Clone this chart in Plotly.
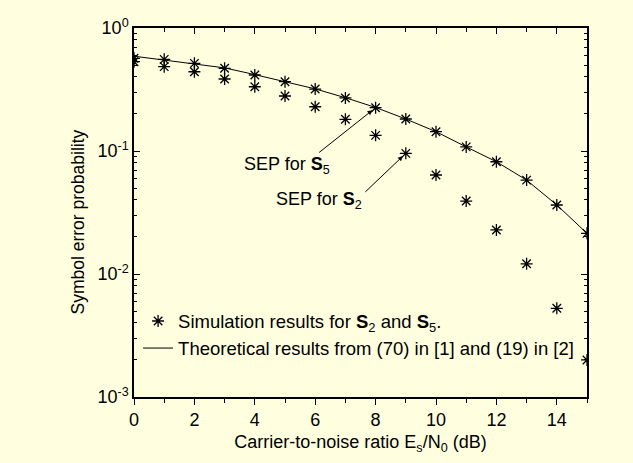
import math
import plotly.graph_objects as go

snr_db = list(range(0, 16))
sep_s5_sim = [0.567, 0.556, 0.516, 0.470, 0.415, 0.366, 0.319, 0.270, 0.225, 0.182,
              0.1436, 0.108, 0.0818, 0.058, 0.0364, 0.0214]
sep_s2_sim = [0.532, 0.485, 0.441, 0.385, 0.333, 0.280, 0.229, 0.181, 0.134, 0.0957,
              0.0638, 0.0392, 0.0228, 0.0121, 0.00526, 0.0020]
sep_theory = [0.590, 0.549, 0.515, 0.474, 0.418, 0.368, 0.320, 0.271, 0.226, 0.182,
              0.1436, 0.108, 0.0818, 0.058, 0.0364, 0.0214]

y_tick_vals = [1e-3, 1e-2, 1e-1, 1]
y_tick_text = ["10<sup>-3</sup>", "10<sup>-2</sup>", "10<sup>-1</sup>", "10<sup>0</sup>"]
x_tick_vals = [0, 2, 4, 6, 8, 10, 12, 14]

BG = "#FFFFE0"
FONT = "Liberation Sans, Arial, sans-serif"
FS = 18

fig = go.Figure()
fig.add_trace(go.Scatter(
    x=snr_db, y=sep_s5_sim, mode="markers",
    name="Simulation results for <b>S</b><sub>2</sub> and <b>S</b><sub>5</sub>.",
    legendgroup="sim",
    marker=dict(symbol="asterisk-open", size=10, color="black",
                line=dict(color="black", width=1.3)),
))
fig.add_trace(go.Scatter(
    x=snr_db, y=sep_s2_sim, mode="markers", showlegend=False, legendgroup="sim",
    marker=dict(symbol="asterisk-open", size=10, color="black",
                line=dict(color="black", width=1.3)),
))
fig.add_trace(go.Scatter(
    x=snr_db, y=sep_theory, mode="lines",
    name="Theoretical results from (70) in [1] and (19) in [2]",
    line=dict(color="black", width=1),
))
# helper trace for the top axis (inside ticks)
fig.add_trace(go.Scatter(x=[], y=[], xaxis="x2", yaxis="y", showlegend=False,
                         hoverinfo="skip"))

minor_y = [m * 10 ** k for k in range(-3, 0) for m in range(2, 10)]

fig.update_layout(
    width=633, height=463,
    paper_bgcolor=BG, plot_bgcolor=BG,
    margin=dict(l=133.5, r=46.3, t=28, b=65.7),
    font=dict(family=FONT, size=FS, color="black"),
    showlegend=True,
    legend=dict(x=0.009, xanchor="left", y=0.08, yanchor="bottom",
                bgcolor="rgba(0,0,0,0)", borderwidth=0,
                font=dict(size=FS + 0.5), itemwidth=30, tracegroupgap=0),
    xaxis=dict(
        range=[0, 15], tickvals=x_tick_vals, ticks="outside", ticklen=6,
        tickwidth=1, tickcolor="black",
        minor=dict(dtick=1, tick0=0, ticks="outside", ticklen=4, tickcolor="black"),
        showline=True, linecolor="black", linewidth=1.5, mirror=True,
        showgrid=False, zeroline=False, tickfont=dict(size=FS),
        title=dict(text="Carrier-to-noise ratio E<sub>s</sub>/N<sub>0</sub> (dB)",
                   standoff=6, font=dict(size=FS)),
    ),
    xaxis2=dict(
        range=[0, 15], overlaying="x", side="top", anchor="y",
        tickvals=x_tick_vals, ticks="inside", ticklen=6, tickcolor="black",
        minor=dict(dtick=1, tick0=0, ticks="inside", ticklen=4, tickcolor="black"),
        showticklabels=False, showline=False, showgrid=False, zeroline=False,
    ),
    yaxis=dict(
        type="log", range=[-3, 0], tickvals=y_tick_vals, ticktext=y_tick_text,
        ticks="inside", ticklen=6, tickcolor="black",
        minor=dict(tickvals=minor_y, ticks="inside", ticklen=3, tickcolor="black"),
        showline=True, linecolor="black", linewidth=1.5, mirror="ticks",
        showgrid=False, zeroline=False, tickfont=dict(size=FS),
    ),
)

# y-axis title (placed slightly below the axis centre, as in the reference)
fig.add_annotation(x=0, y=0.5, xref="paper", yref="paper", xshift=-57, yshift=-10,
                   xanchor="center", yanchor="middle",
                   text="Symbol error probability", textangle=-90, showarrow=False,
                   font=dict(size=17.5))

fig.add_annotation(x=5.05, y=-1.114, xref="x", yref="y",
                   text="SEP for <b>S</b><sub>5</sub>", showarrow=False,
                   font=dict(size=FS))
fig.add_annotation(x=6.14, y=-1.404, xref="x", yref="y",
                   text="SEP for <b>S</b><sub>2</sub>", showarrow=False,
                   font=dict(size=FS))
fig.add_annotation(x=8, y=math.log10(sep_s5_sim[8]), xref="x", yref="y", text="",
                   showarrow=True, ax=-58, ay=46, arrowhead=2, arrowsize=1,
                   arrowwidth=1, arrowcolor="black", standoff=4)
fig.add_annotation(x=9, y=math.log10(sep_s2_sim[9]), xref="x", yref="y", text="",
                   showarrow=True, ax=-42, ay=40, arrowhead=2, arrowsize=1,
                   arrowwidth=1, arrowcolor="black", standoff=4)

fig.write_html("out.html",
               config={"displayModeBar": False},
               post_script="document.body.style.margin='0px';"
                           "document.body.style.background='" + BG + "';")
